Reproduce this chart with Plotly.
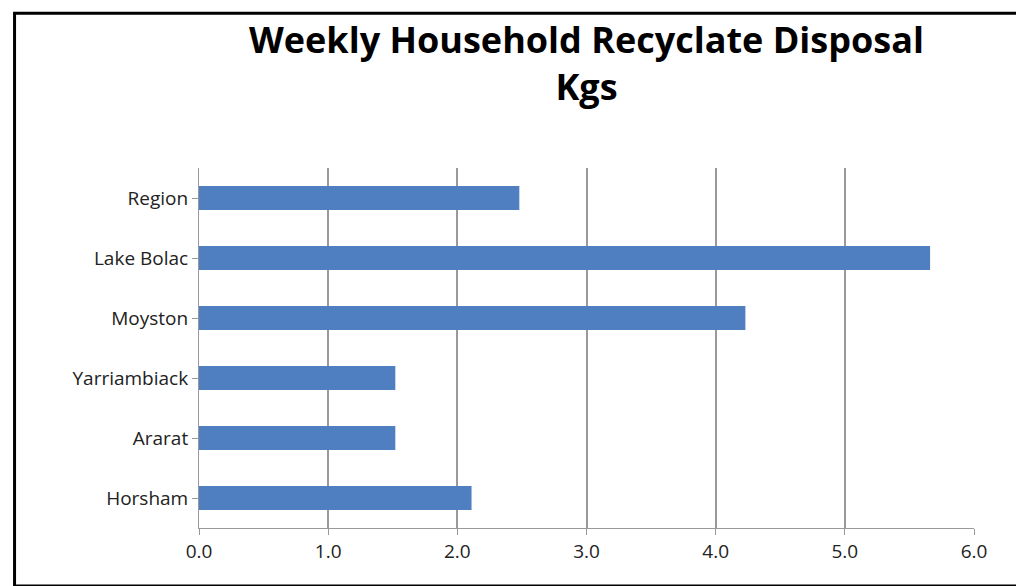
import plotly.graph_objects as go

categories = ["Horsham", "Ararat", "Yarriambiack", "Moyston", "Lake Bolac", "Region"]
values = [2.11, 1.52, 1.52, 4.23, 5.66, 2.48]
tick_vals = [0, 1, 2, 3, 4, 5, 6]
tick_text = ["0.0", "1.0", "2.0", "3.0", "4.0", "5.0", "6.0"]
title_text = "<b>Weekly Household Recyclate Disposal<br>Kgs</b>"

fig = go.Figure(go.Bar(
    y=categories, x=values, orientation="h",
    marker=dict(color="#4F7FC0", line=dict(width=0)), width=0.4,
))
fig.update_layout(
    width=1024, height=586,
    paper_bgcolor="white", plot_bgcolor="white",
    margin=dict(l=191, r=58, t=160, b=66, autoexpand=False),
    font=dict(family="Open Sans", size=19, color="#222"),
    showlegend=False,
    annotations=[dict(text=title_text, xref="paper", yref="paper",
                      x=0.5, y=1.43, xanchor="center", yanchor="top",
                      showarrow=False,
                      font=dict(family="Open Sans", size=36, color="black"))],
    shapes=[dict(type="rect", xref="paper", yref="paper",
                 x0=-0.238, x1=1.065, y0=-0.161, y1=1.43,
                 line=dict(color="black", width=3))],
)
fig.update_xaxes(range=[0, 6], tickvals=tick_vals, ticktext=tick_text,
                 showgrid=True, gridcolor="#999", gridwidth=1.5,
                 ticks="outside", ticklen=6, tickcolor="#999",
                 showline=True, linecolor="#999", zeroline=False, automargin=False)
fig.update_yaxes(showline=True, linecolor="#999", ticks="outside",
                 ticklen=6, tickcolor="#999", showgrid=False, automargin=False)
fig.write_html("out.html")
